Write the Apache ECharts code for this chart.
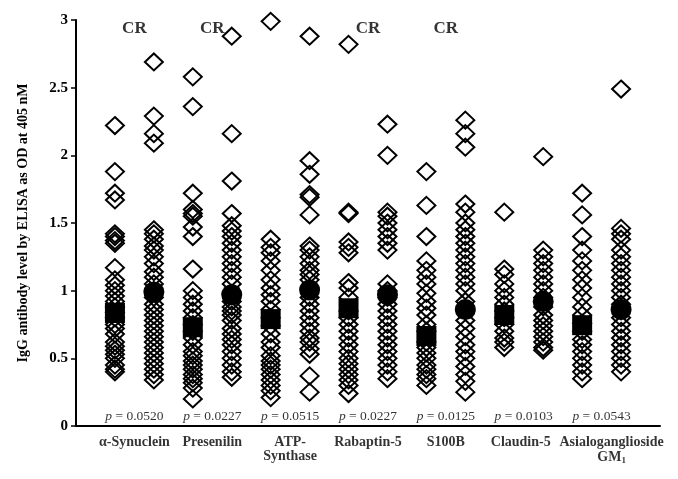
<!DOCTYPE html>
<html><head><meta charset="utf-8">
<script src="https://cdn.jsdelivr.net/npm/echarts@6/dist/echarts.min.js"></script>
<style>html,body{margin:0;padding:0;background:#fff}#c{width:678px;height:479px}</style>
</head><body><div id="c"></div>
<script>
const categories = ['α-Synuclein', 'Presenilin', 'ATP-\nSynthase', 'Rabaptin-5', 'S100B', 'Claudin-5', 'Asialoganglioside\n{sub|GM}{s1|1}'];
const pValues = ['0.0520', '0.0227', '0.0515', '0.0227', '0.0125', '0.0103', '0.0543'];
const crCategories = [0, 1, 3, 4];
const yTicks = [0, 0.5, 1, 1.5, 2, 2.5, 3];

// left group (square mean) and right group (circle mean) per category
const synL = [2.22, 1.88, 1.72, 1.67, 1.42, 1.40, 1.37, 1.35, 1.17, 1.08, 1.04, 1.00, 0.96, 0.92, 0.88, 0.84, 0.80, 0.75, 0.72, 0.68, 0.62, 0.59, 0.56, 0.53, 0.50, 0.45, 0.42, 0.40];
const synR = [2.69, 2.29, 2.16, 2.09, 1.45, 1.42, 1.38, 1.33, 1.30, 1.25, 1.20, 1.14, 1.10, 1.05, 1.00, 0.95, 0.90, 0.86, 0.82, 0.78, 0.74, 0.70, 0.66, 0.62, 0.58, 0.54, 0.50, 0.46, 0.42, 0.38, 0.34];
const preL = [2.58, 2.36, 1.72, 1.60, 1.57, 1.55, 1.47, 1.40, 1.16, 1.00, 0.95, 0.90, 0.85, 0.80, 0.75, 0.70, 0.65, 0.60, 0.55, 0.52, 0.48, 0.45, 0.42, 0.38, 0.35, 0.32, 0.28, 0.20];
const preR = [2.88, 2.16, 1.81, 1.57, 1.48, 1.44, 1.40, 1.35, 1.30, 1.25, 1.20, 1.15, 1.10, 1.05, 0.98, 0.92, 0.88, 0.85, 0.82, 0.78, 0.72, 0.68, 0.64, 0.60, 0.55, 0.50, 0.45, 0.40, 0.36];
const atpL = [2.99, 1.38, 1.32, 1.28, 1.22, 1.15, 1.08, 1.02, 0.97, 0.92, 0.86, 0.80, 0.74, 0.68, 0.62, 0.58, 0.52, 0.48, 0.45, 0.42, 0.38, 0.34, 0.30, 0.26, 0.21];
const atpR = [2.88, 1.96, 1.86, 1.71, 1.69, 1.56, 1.33, 1.30, 1.25, 1.20, 1.15, 1.12, 1.08, 1.02, 0.95, 0.90, 0.85, 0.80, 0.75, 0.70, 0.65, 0.62, 0.57, 0.53, 0.37, 0.25];
const rabL = [2.82, 1.58, 1.57, 1.36, 1.32, 1.28, 1.06, 1.02, 0.95, 0.85, 0.80, 0.75, 0.70, 0.65, 0.60, 0.55, 0.50, 0.46, 0.42, 0.38, 0.34, 0.30, 0.24];
const rabR = [2.23, 2.00, 1.58, 1.55, 1.50, 1.45, 1.40, 1.35, 1.30, 1.05, 1.00, 0.95, 0.90, 0.85, 0.80, 0.75, 0.70, 0.65, 0.60, 0.55, 0.50, 0.45, 0.40, 0.35];
const s1bL = [1.88, 1.63, 1.40, 1.22, 1.15, 1.10, 1.05, 0.98, 0.92, 0.87, 0.82, 0.75, 0.70, 0.62, 0.58, 0.54, 0.50, 0.45, 0.42, 0.38, 0.35, 0.30];
const s1bR = [2.26, 2.16, 2.06, 1.64, 1.58, 1.50, 1.45, 1.40, 1.35, 1.30, 1.25, 1.20, 1.15, 1.10, 1.05, 1.00, 0.92, 0.85, 0.78, 0.72, 0.66, 0.60, 0.55, 0.50, 0.44, 0.38, 0.33, 0.25];
const claL = [1.58, 1.16, 1.12, 1.05, 1.00, 0.95, 0.90, 0.85, 0.80, 0.75, 0.70, 0.65, 0.62, 0.58];
const claR = [1.99, 1.30, 1.25, 1.20, 1.15, 1.10, 1.05, 1.00, 0.95, 0.88, 0.82, 0.78, 0.74, 0.70, 0.66, 0.62, 0.58, 0.56];
const asiL = [1.72, 1.56, 1.40, 1.30, 1.22, 1.15, 1.08, 1.02, 0.95, 0.88, 0.82, 0.76, 0.70, 0.64, 0.60, 0.55, 0.50, 0.45, 0.40, 0.35];
const asiR = [2.49, 1.46, 1.42, 1.38, 1.30, 1.25, 1.20, 1.15, 1.10, 1.05, 1.00, 0.95, 0.90, 0.85, 0.80, 0.75, 0.70, 0.65, 0.60, 0.55, 0.50, 0.45, 0.40];

const meanLeft = [0.835, 0.73, 0.79, 0.87, 0.665, 0.82, 0.745];
const meanRight = [0.99, 0.97, 1.005, 0.97, 0.86, 0.92, 0.86];

const leftGroups = [synL, preL, atpL, rabL, s1bL, claL, asiL];
const rightGroups = [synR, preR, atpR, rabR, s1bR, claR, asiR];

const serif = 'Liberation Serif';
const diamondData = [];
leftGroups.forEach((arr, i) => arr.forEach(v => diamondData.push([2 * i, v])));
rightGroups.forEach((arr, i) => arr.forEach(v => diamondData.push([2 * i + 1, v])));

const chart = echarts.init(document.getElementById('c'), null, {renderer: 'canvas'});
chart.setOption({
  backgroundColor: '#fff',
  animation: false,
  grid: {left: 76, right: 18, top: 20, bottom: 53, containLabel: false},
  xAxis: {
    type: 'value', min: -1, max: 14,
    axisLine: {show: true, onZero: false, lineStyle: {color: '#000', width: 2}},
    axisTick: {show: false}, axisLabel: {show: false}, splitLine: {show: false}
  },
  yAxis: {
    type: 'value', min: 0, max: 3, interval: 0.5,
    name: 'IgG antibody level by ELISA as OD at 405 nM',
    nameLocation: 'middle', nameGap: 46,
    nameTextStyle: {fontFamily: serif, fontWeight: 'bold', fontSize: 14, color: '#000'},
    axisLine: {show: true, onZero: false, lineStyle: {color: '#000', width: 2}},
    axisTick: {show: true, length: 5, lineStyle: {color: '#000', width: 1.5}},
    axisLabel: {fontFamily: serif, fontWeight: 'bold', fontSize: 15, color: '#000', margin: 8,
      formatter: v => (yTicks.indexOf(v) >= 0 ? String(v) : '')},
    splitLine: {show: false}
  },
  series: [
    {
      type: 'scatter', name: 'values', symbol: 'diamond', symbolSize: [18, 17],
      itemStyle: {color: 'rgba(255,255,255,0)', borderColor: '#000', borderWidth: 2, opacity: 1},
      data: diamondData, z: 2, clip: false
    },
    {
      type: 'scatter', name: 'meanL', symbol: 'rect', symbolSize: [20, 20],
      itemStyle: {color: '#000', opacity: 1}, z: 5,
      data: meanLeft.map((v, i) => [2 * i, v])
    },
    {
      type: 'scatter', name: 'meanR', symbol: 'circle', symbolSize: 21,
      itemStyle: {color: '#000', opacity: 1}, z: 5,
      data: meanRight.map((v, i) => [2 * i + 1, v])
    },
    {
      type: 'scatter', name: 'cats', symbolSize: 0, silent: true, clip: false,
      data: categories.map((c, i) => ({value: [2 * i + 0.5, 0], name: c,
        label: i === 6 ? {offset: [10, 0]} : (i === 5 ? {offset: [-3, 0]} : {})})),
      label: {show: true, position: 'bottom', distance: 9, formatter: p => p.name,
        fontFamily: serif, fontWeight: 'bold', fontSize: 14, color: '#000', lineHeight: 14, align: 'center',
        rich: {sub: {fontFamily: serif, fontWeight: 'bold', fontSize: 14, color: '#000', lineHeight: 16},
               s1: {fontFamily: serif, fontWeight: 'bold', fontSize: 9, color: '#000', verticalAlign: 'bottom', padding: [8, 0, 0, 0], lineHeight: 16}}}
    },
    {
      type: 'scatter', name: 'pvals', symbolSize: 0, silent: true, clip: false,
      data: pValues.map((p, i) => ({value: [2 * i + 0.5, 0], name: p})),
      label: {show: true, position: 'top', distance: 3,
        formatter: p => '{i|p} = ' + p.name,
        fontFamily: serif, fontSize: 13.5, color: '#000',
        rich: {i: {fontFamily: serif, fontStyle: 'italic', fontSize: 13.5, color: '#000'}}}
    },
    {
      type: 'scatter', name: 'cr', symbolSize: 0, silent: true, clip: false,
      data: crCategories.map(i => ({value: [2 * i + 0.5, 3], name: 'CR'})),
      label: {show: true, position: 'bottom', distance: 0, formatter: 'CR',
        fontFamily: serif, fontWeight: 'bold', fontSize: 17, color: '#000'}
    }
  ]
});
</script></body></html>
